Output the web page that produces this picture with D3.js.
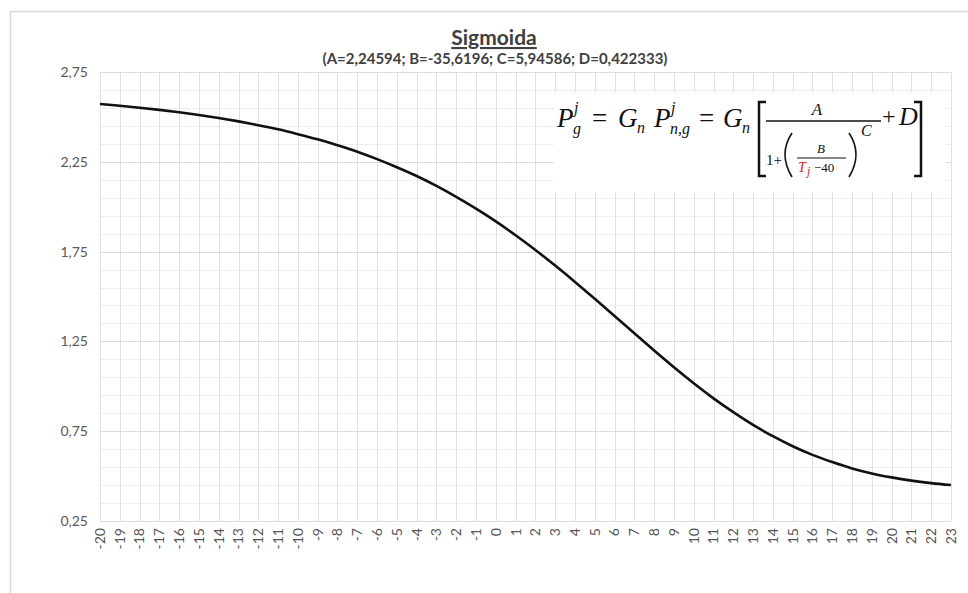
<!DOCTYPE html>
<html>
<head>
<meta charset="utf-8">
<script src="https://cdn.jsdelivr.net/npm/d3@7"></script>
<style>
  body { margin: 0; background: #fff; }
  svg { display: block; }
</style>
</head>
<body>
<svg></svg>
<script>
// temperature T (categories on the x axis)
var temps = d3.range(-20, 24);
// P values
var values = [2.572, 2.562, 2.551, 2.539, 2.526, 2.511, 2.494, 2.475, 2.454, 2.431,
  2.404, 2.375, 2.342, 2.306, 2.265, 2.220, 2.171, 2.116, 2.055, 1.989,
  1.918, 1.841, 1.759, 1.672, 1.581, 1.487, 1.391, 1.295, 1.199, 1.106,
  1.017, 0.933, 0.856, 0.785, 0.722, 0.666, 0.618, 0.578, 0.543, 0.515,
  0.493, 0.475, 0.461, 0.450];
var yTicks = [0.25, 0.75, 1.25, 1.75, 2.25, 2.75];
var yMinor = d3.range(0.25, 2.7501, 0.1);

var title = "Sigmoida";
var subtitle = "(A=2,24594; B=-35,6196; C=5,94586; D=0,422333)";

var width = 968, height = 593;
var font = "Lato, 'Open Sans', sans-serif";
var comma = d3.format(".2f");

var svg = d3.select("svg").attr("width", width).attr("height", height);

// chart frame
svg.append("rect")
  .attr("x", 10.5).attr("y", 11.5)
  .attr("width", 980).attr("height", 600)
  .attr("fill", "#fff").attr("stroke", "#d9d9d9").attr("stroke-width", 1.5);

var x = d3.scalePoint().domain(temps).range([100, 951]);
var y = d3.scaleLinear().domain([0.25, 2.75]).range([521, 72]);

var grid = svg.append("g");
// minor horizontal lines
grid.selectAll(".minor").data(yMinor).enter().append("line")
  .attr("x1", 100).attr("x2", 951)
  .attr("y1", d => Math.round(y(d)) + 0.5).attr("y2", d => Math.round(y(d)) + 0.5)
  .attr("stroke", "#eeeeee");
// vertical lines on each category
grid.selectAll(".vert").data(temps).enter().append("line")
  .attr("x1", d => Math.round(x(d)) + 0.5).attr("x2", d => Math.round(x(d)) + 0.5)
  .attr("y1", 72).attr("y2", 521)
  .attr("stroke", "#e0e0e0");
// major horizontal lines
grid.selectAll(".major").data(yTicks).enter().append("line")
  .attr("x1", 100).attr("x2", 951)
  .attr("y1", d => Math.round(y(d)) + 0.5).attr("y2", d => Math.round(y(d)) + 0.5)
  .attr("stroke", "#dcdcdc");

// y labels
svg.append("g").selectAll("text").data(yTicks).enter().append("text")
  .attr("x", 88).attr("y", d => y(d)).attr("dy", "0.35em")
  .attr("text-anchor", "end")
  .attr("font-family", font).attr("font-size", 14).attr("fill", "#595959")
  .text(d => comma(d).replace(".", ","));

// x labels, rotated
svg.append("g").selectAll("text").data(temps).enter().append("text")
  .attr("transform", d => "translate(" + x(d) + ",528)rotate(-90)")
  .attr("dy", "0.35em")
  .attr("text-anchor", "end")
  .attr("font-family", font).attr("font-size", 14).attr("fill", "#555")
  .text(d => d);

// the curve
var line = d3.line()
  .x((d, i) => x(temps[i]))
  .y(d => y(d))
  .curve(d3.curveCatmullRom);
svg.append("path")
  .datum(values)
  .attr("d", line)
  .attr("fill", "none")
  .attr("stroke", "#111")
  .attr("stroke-width", 2.6);

// titles
svg.append("text")
  .attr("x", 494).attr("y", 45)
  .attr("text-anchor", "middle")
  .attr("font-family", font).attr("font-size", 21).attr("font-weight", "bold")
  .attr("fill", "#404040").attr("text-decoration", "underline")
  .text(title);
svg.append("text")
  .attr("x", 495).attr("y", 64)
  .attr("text-anchor", "middle")
  .attr("font-family", font).attr("font-size", 15).attr("font-weight", "bold")
  .attr("fill", "#404040")
  .text(subtitle);

// formula box
var f = svg.append("g");
f.append("rect").attr("x", 554).attr("y", 92).attr("width", 392).attr("height", 100).attr("fill", "#fff");

var serif = "'Liberation Serif', 'DejaVu Serif', serif";
function txt(tx, ty, s, size, opts) {
  opts = opts || {};
  return f.append("text").attr("x", tx).attr("y", ty)
    .attr("font-family", serif).attr("font-size", size)
    .attr("font-style", opts.normal ? "normal" : "italic")
    .attr("text-anchor", opts.anchor || "start")
    .attr("fill", opts.fill || "#111")
    .text(s);
}
txt(557, 127, "P", 27);
txt(574, 113, "j", 16);
txt(573, 134, "g", 16);
txt(592, 127, "=", 27, {normal: true});
txt(618, 127, "G", 27);
txt(637, 133, "n", 16);
txt(654, 127, "P", 27);
txt(671, 113, "j", 16);
txt(670, 134, "n,g", 16);
txt(699, 127, "=", 27, {normal: true});
txt(723, 127, "G", 27);
txt(742, 133, "n", 16);

// big brackets
f.append("path").attr("d", "M766,102 H759 V176 H766").attr("fill", "none").attr("stroke", "#111").attr("stroke-width", 2.5);
f.append("path").attr("d", "M914,102 H921 V176 H914").attr("fill", "none").attr("stroke", "#111").attr("stroke-width", 2.5);

// main fraction
f.append("line").attr("x1", 766).attr("x2", 881).attr("y1", 121).attr("y2", 121).attr("stroke", "#111").attr("stroke-width", 1.4);
txt(817, 115, "A", 17, {anchor: "middle"});
txt(766, 165, "1+", 15, {normal: true});
f.append("path").attr("d", "M792,133 Q778,154 792,177").attr("fill", "none").attr("stroke", "#111").attr("stroke-width", 1.6);
f.append("line").attr("x1", 797).attr("x2", 846).attr("y1", 158).attr("y2", 158).attr("stroke", "#111").attr("stroke-width", 1.1);
txt(821, 153, "B", 13, {anchor: "middle"});
txt(798, 172, "T", 14, {fill: "#e02020"});
txt(807, 175, "j", 12, {fill: "#e02020"});
txt(814, 172, "\u221240", 13, {normal: true});
f.append("path").attr("d", "M849,133 Q863,154 849,177").attr("fill", "none").attr("stroke", "#111").attr("stroke-width", 1.6);
txt(861, 136, "C", 16);
txt(882, 124, "+", 24, {normal: true});
txt(899, 125, "D", 26);
</script>
</body>
</html>
